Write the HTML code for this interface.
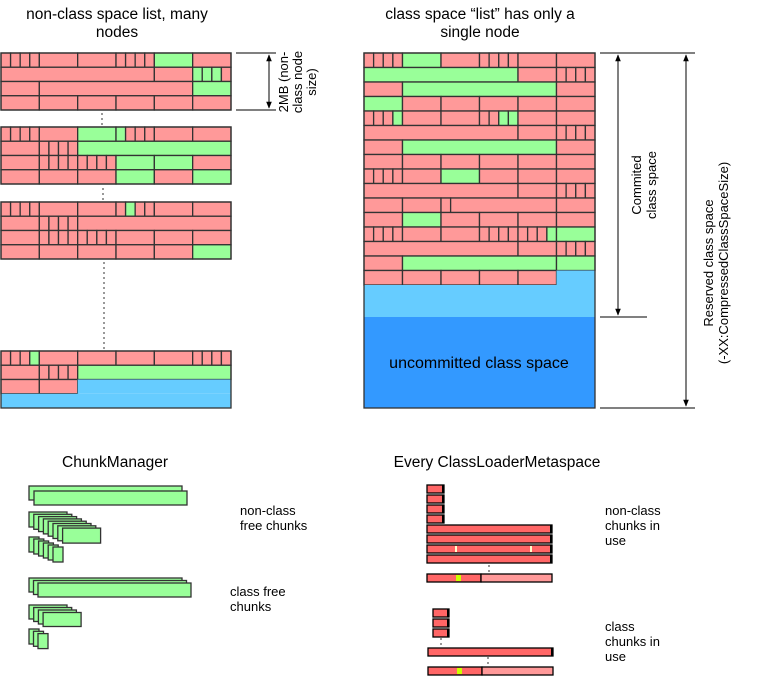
<!DOCTYPE html>
<html><head><meta charset="utf-8"><style>
body{margin:0;background:#fff;width:764px;height:678px;overflow:hidden}
svg{font-family:"Liberation Sans",sans-serif}
</style></head><body>
<svg id="s" width="764" height="678" xmlns="http://www.w3.org/2000/svg">
<defs><marker id="ah" viewBox="0 0 10 10" refX="9" refY="5" markerWidth="7" markerHeight="7" orient="auto-start-reverse"><path d="M0,1 L10,5 L0,9z" fill="#000"/></marker></defs>
<g font-size="15.5" text-anchor="middle" fill="#000">
<text x="117" y="19">non-class space list, many</text>
<text x="117" y="37">nodes</text>
<text x="480" y="19">class space “list” has only a</text>
<text x="480" y="37">single node</text>
<text x="115" y="467">ChunkManager</text>
<text x="497" y="467">Every ClassLoaderMetaspace</text>
</g>
<g font-size="13" fill="#000">
<text x="240" y="515"><tspan x="240">non-class</tspan><tspan x="240" dy="15">free chunks</tspan></text>
<text x="230" y="596"><tspan x="230">class free</tspan><tspan x="230" dy="15">chunks</tspan></text>
<text x="605" y="515"><tspan x="605">non-class</tspan><tspan x="605" dy="15">chunks in</tspan><tspan x="605" dy="15">use</tspan></text>
<text x="605" y="631"><tspan x="605">class</tspan><tspan x="605" dy="15">chunks in</tspan><tspan x="605" dy="15">use</tspan></text>
<text transform="translate(294,82) rotate(-90)" text-anchor="middle"><tspan x="0" y="-6">2MB (non-</tspan><tspan x="0" dy="14">class node</tspan><tspan x="0" dy="14">size)</tspan></text>
<text transform="translate(645,185) rotate(-90)" text-anchor="middle"><tspan x="0" y="-4">Commited</tspan><tspan x="0" dy="15">class space</tspan></text>
<text transform="translate(717,263) rotate(-90)" text-anchor="middle"><tspan x="0" y="-4">Reserved class space</tspan><tspan x="0" dy="15">(-XX:CompressedClassSpaceSize)</tspan></text>
</g>
<g stroke="#000" stroke-width="1">
<line x1="236" y1="53" x2="276" y2="53"/><line x1="236" y1="110" x2="276" y2="110"/>
<line x1="269" y1="55" x2="269" y2="108" marker-start="url(#ah)" marker-end="url(#ah)"/>
<line x1="600" y1="53" x2="695" y2="53"/><line x1="600" y1="317" x2="647" y2="317"/><line x1="600" y1="408" x2="695" y2="408"/>
<line x1="618" y1="55" x2="618" y2="315" marker-start="url(#ah)" marker-end="url(#ah)"/>
<line x1="686" y1="55" x2="686" y2="406" marker-start="url(#ah)" marker-end="url(#ah)"/>
</g>
<g stroke="#333" stroke-dasharray="2,3">
<line x1="102" y1="113" x2="102" y2="126"/><line x1="103" y1="188" x2="103" y2="201"/><line x1="104" y1="262" x2="104" y2="350"/>
<line x1="489" y1="565" x2="489" y2="573"/><line x1="441" y1="638" x2="441" y2="647"/><line x1="488" y1="657" x2="488" y2="666"/>
</g>
<g id="nodes"></g>
<g id="chunks"></g>
<text x="479" y="368" font-size="16" text-anchor="middle">uncommitted class space</text>
</svg>
<script>
const C={r:'#ff9999',g:'#99ff99',b:'#66ccff'};
const leftNodes=[
 {y:53,rows:["r1 r1 r1 r1 r4 r4 r1 r1 r1 r1 g4 r4","r16 r4 g1 g1 g1 r1","r4 r16 g4","r4 r4 r4 r4 r4 r4"]},
 {y:127,rows:["r1 r1 r1 r1 r4 g4 g1 r1 r1 r1 r4 r4","r4 r1 r1 r1 r1 g16","r4 r1 r1 r1 r1 r1 r1 r1 r1 g4 g4 r4","r4 r4 r4 g4 r4 g4"]},
 {y:202,rows:["r1 r1 r1 r1 r4 r4 r1 g1 r1 r1 r4 r4","r4 r1 r1 r1 r1 r16","r4 r1 r1 r1 r1 r1 r1 r1 r1 r4 r4 r4","r4 r4 r4 r4 r4 g4"]},
 {y:351,rows:["r1 r1 r1 g1 r4 r4 r4 r4 r1 r1 r1 r1","r4 r1 r1 r1 r1 g16","r4 r4 b16","b24"]}
];
const rightRows=["r1 r1 r1 r1 g4 r4 r1 r1 r1 r1 r4 r4","g16 r4 r1 r1 r1 r1","r4 g16 r4","g4 r4 r4 r4 r4 r4","r1 r1 r1 g1 r4 r4 r1 r1 g1 g1 r4 r4","r16 r4 r1 r1 r1 r1","r4 g16 r4","r4 r4 r4 r4 r4 r4","r1 r1 r1 r1 r4 g4 r4 r4 r4","r16 r4 r1 r1 r1 r1","r4 r4 r1 r11 r4","r4 g4 r4 r4 r4 r4","r1 r1 r1 r1 r4 r4 r1 r1 r1 r1 r1 r1 r1 g1 g4","r16 r4 r1 r1 r1 r1","r4 g16 g4","r4 r4 r4 r4 r4 b4"];
const NS='http://www.w3.org/2000/svg';
function rect(p,x,y,w,h,fill,stroke,name){const e=document.createElementNS(NS,'rect');e.setAttribute('x',x);e.setAttribute('y',y);e.setAttribute('width',w);e.setAttribute('height',h);e.setAttribute('fill',fill);e.setAttribute('stroke',stroke||'none');e.setAttribute('stroke-width','1.3');


p.appendChild(e);return e;}
const G=document.getElementById('nodes');
function drawRow(x0,w,y,h,spec){const u=w/24;let pos=0;spec.split(' ').forEach(t=>{const c=t[0],n=+t.slice(1);rect(G,x0+pos*u,y,n*u,h,C[c],c==='b'?'none':'#333',c==='g'?'free-chunk':c==='b'?'uncommitted-area':'used-chunk');pos+=n;});}
leftNodes.forEach(nd=>{const h=57/4;nd.rows.forEach((r,i)=>drawRow(1,230,nd.y+i*h,h,r));rect(G,1,nd.y,230,57,'none','#333','virtual-space-node');});
const rh=232/16;rightRows.forEach((r,i)=>drawRow(364,231,53+i*rh,rh,r));
rect(G,364,285,231,32,C.b,'none','committed-free-area');
rect(G,364,317,231,91,'#3399ff','none','uncommitted-area');
rect(G,364,53,231,355,'none','#333','class-space-node');
const K=document.getElementById('chunks');
function stack(x,y,w,h,n,dx,dy){for(let i=0;i<n;i++)rect(K,x+i*dx,y+i*dy,w,h,'#99ff99','#333','free-chunk');}
stack(29,486,153,14,2,5,5);stack(29,512,38,15,8,4.8,2.3);stack(29,537,10,15,6,4.8,2);
stack(29,578,153,14,3,4.5,2.5);stack(29,605,38,14,4,4.7,2.5);stack(29,629,10,15,3,4.5,2.3);
function inuse(x,y,w){rect(K,x,y,w,8,'#ff6666','#000','in-use-chunk');const e=rect(K,x+w-2,y,2,8,'#000','none','chunk-end');}
[485,495,505,515].forEach(y=>inuse(427,y,17));
[525,535,545,555].forEach(y=>inuse(427,y,125));
rect(K,455,546,2,6,'#ffffcc','none','marker');rect(K,530,546,2,6,'#ffffcc','none','marker');
[609,619,629].forEach(y=>inuse(433,y,16));inuse(428,648,125);
function cur(x,y){rect(K,x,y,54,8,'#ff6666','#000','current-chunk');rect(K,x+54,y,71,8,'#ff9999','#000','current-chunk-free');rect(K,x+29,y+1,5,6,'#ccff00','none','alloc-top');}
cur(427,574);cur(428,667);
</script>
</body></html>
